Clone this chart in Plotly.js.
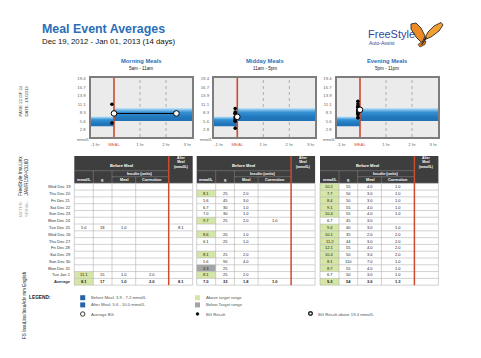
<!DOCTYPE html>
<html><head><meta charset="utf-8">
<script src="https://cdn.plot.ly/plotly-3.0.1.min.js"></script>
<style>html,body{margin:0;padding:0;background:#fff}#chart{width:481px;height:358px}</style>
</head><body><div id="chart"></div>
<script>
// ---------------- DATA ----------------
const days = ["Wed Dec 19","Thu Dec 20","Fri Dec 21","Sat Dec 22","Sun Dec 23","Mon Dec 24","Tue Dec 25","Wed Dec 26","Thu Dec 27","Fri Dec 28","Sat Dec 29","Sun Dec 30","Mon Dec 31","Tue Jan 1"];
const N = null;
const mealNames = ["Morning Meals","Midday Meals","Evening Meals"];
const mealSpans = ["5am - 11am","11am - 5pm","5pm - 11pm"];
const beforeTarget = [3.9, 7.2];
const afterTarget = [5.6, 10.0];
const yTickVals = [2.8,5.6,8.3,11.1,13.9,16.7,19.4];
const xTickText = ["-1 hr","MEAL","1 hr","2 hr","3 hr"];

const morningBG      = [N,N,N,N,N,N,5.0,N,N,N,N,N,N,11.1];
const morningCarbs   = [N,N,N,N,N,N,18,N,N,N,N,N,N,15];
const morningMealIns = [N,N,N,N,N,N,1.0,N,N,N,N,N,N,1.0];
const morningCorrIns = [N,N,N,N,N,N,N,N,N,N,N,N,N,2.0];
const morningAfterBG = [N,N,N,N,N,N,8.1,N,N,N,N,N,N,N];
const morningAfterHr = [N,N,N,N,N,N,2.4,N,N,N,N,N,N,N];
const morningAvg     = [8.1,17,1.0,2.0,8.1];

const middayBG      = [N,8.1,5.6,6.7,7.0,9.7,N,8.6,6.1,N,8.1,5.6,3.3,8.1];
const middayCarbs   = [N,25,45,30,30,25,N,20,25,N,25,90,25,25];
const middayMealIns = [N,2.0,3.0,1.0,1.0,2.0,N,1.0,1.0,N,2.0,4.0,N,2.0];
const middayCorrIns = [N,N,N,N,N,1.0,N,N,N,N,N,N,N,N];
const middayAfterBG = [N,N,N,N,N,N,N,N,N,N,N,N,N,N];
const middayAfterHr = [N,N,N,N,N,N,N,N,N,N,N,N,N,N];
const middayAvg     = [7.0,33,1.8,1.0,N];

const eveningBG      = [10.2,7.7,8.4,9.1,10.4,6.7,9.4,10.1,11.2,12.1,10.4,8.1,8.7,6.7];
const eveningCarbs   = [55,50,50,55,55,45,40,35,44,55,50,110,55,50];
const eveningMealIns = [4.0,3.0,3.0,4.0,4.0,3.0,3.0,2.0,3.0,4.0,3.0,7.0,4.0,3.0];
const eveningCorrIns = [1.0,1.0,1.0,1.0,1.0,N,1.0,2.0,2.0,2.0,2.0,1.0,1.0,1.0];
const eveningAfterBG = [N,N,N,N,N,N,N,N,N,N,N,N,N,N];
const eveningAfterHr = [N,N,N,N,N,N,N,N,N,N,N,N,N,N];
const eveningAvg     = [9.3,54,3.6,1.3,N];

// ---------------- BUILD ----------------
const W=481, H=358;
const X=p=>p/W, Y=p=>1-p/H;
const FONT="Liberation Sans, Arial, sans-serif";
const meals=[
 {bg:morningBG,g:morningCarbs,mi:morningMealIns,ci:morningCorrIns,ab:morningAfterBG,ah:morningAfterHr,avg:morningAvg},
 {bg:middayBG,g:middayCarbs,mi:middayMealIns,ci:middayCorrIns,ab:middayAfterBG,ah:middayAfterHr,avg:middayAvg},
 {bg:eveningBG,g:eveningCarbs,mi:eveningMealIns,ci:eveningCorrIns,ab:eveningAfterBG,ah:eveningAfterHr,avg:eveningAvg}
];
const annotations=[], shapes=[], traces=[];
function A(text,px,py,size,color,extra){annotations.push(Object.assign({text,x:X(px),y:Y(py),xref:'paper',yref:'paper',showarrow:false,xanchor:'center',yanchor:'middle',borderpad:0,font:{family:FONT,size,color}},extra||{}));}
function R(x0,y0,x1,y1,fill,lc,lw,layer){shapes.push({type:'rect',xref:'paper',yref:'paper',x0:X(x0),x1:X(x1),y0:Y(y1),y1:Y(y0),fillcolor:fill,line:{color:lc||fill,width:lw||0},layer:layer||'above'});}
function Ln(x0,y0,x1,y1,c,w){shapes.push({type:'line',xref:'paper',yref:'paper',x0:X(x0),x1:X(x1),y0:Y(y0),y1:Y(y1),line:{color:c,width:w},layer:'above'});}
function C(cx,cy,r,fill,lc,lw){shapes.push({type:'circle',xref:'paper',yref:'paper',x0:X(cx-r),x1:X(cx+r),y0:Y(cy+r),y1:Y(cy-r),fillcolor:fill,line:{color:lc,width:lw},layer:'above'});}

// Title
A("<b>Meal Event Averages</b>",41,29,12.4,"#2a6fb8",{xanchor:'left'});
A("Dec 19, 2012 - Jan 01, 2013 (14 days)",41,41.7,7.8,"#111",{xanchor:'left'});

// Logo
A("FreeStyle",366.5,34.5,11,"#34469a",{xanchor:'left'});
A("Auto-Assist",367.5,43.5,5,"#34469a",{xanchor:'left'});
function P(pts){return pts.map((p,i)=>(i?'L':'M')+X(p[0]).toFixed(5)+','+Y(p[1]).toFixed(5)).join(' ')+' Z';}
shapes.push({type:'path',xref:'paper',yref:'paper',path:P([[422,43],[416,37],[411,29],[411,24],[416,23],[421,28],[425,36]]),fillcolor:'#ec8a25',line:{color:'#2a2a2a',width:0.9},layer:'above'});
shapes.push({type:'path',xref:'paper',yref:'paper',path:P([[424,40],[428,32],[434,26],[441,22.5],[443,25],[439,31],[431,37]]),fillcolor:'#f0a035',line:{color:'#2a2a2a',width:0.9},layer:'above'});
shapes.push({type:'path',xref:'paper',yref:'paper',path:P([[423,41],[418,44.5],[420,47],[425,44.5],[426,41]]),fillcolor:'#e07f20',line:{color:'#2a2a2a',width:0.7},layer:'above'});
Ln(421.5,45,426.5,37,'#222',1.1);

// Charts
const frameL=[90.6,213.9,336.6], frameW=101.4, frameT=78, frameB=137;
const xr=[-0.9,3.0], yr=[0.4,19.7];
const beforeHr=-0.08;
const gradScale=[[0,'#1f70b4'],[0.3,'#2178bd'],[0.65,'#3590d2'],[0.85,'#86c3ec'],[1,'#dceffb']];
const layout={width:W,height:H,margin:{l:0,r:0,t:0,b:0},paper_bgcolor:'#fff',plot_bgcolor:'rgba(0,0,0,0)',showlegend:false,font:{family:FONT}};
meals.forEach((m,i)=>{
  const s=i?String(i+1):'';
  const xa='x'+s, ya='y'+s;
  layout['xaxis'+s]={domain:[X(frameL[i]),X(frameL[i]+frameW)],range:xr,anchor:ya,tickvals:[-0.72,0,1,2,2.82],
    ticktext:xTickText.map(t=>t==='MEAL'?'<span style="color:#d9573c">MEAL</span>':t),
    tickfont:{size:4.3,color:'#666',family:FONT},ticks:'outside',ticklen:2,tickcolor:'rgba(0,0,0,0)',
    showline:true,mirror:true,linecolor:'#7d7d7d',linewidth:2,showgrid:false,zeroline:false,fixedrange:true};
  layout['yaxis'+s]={domain:[Y(frameB),Y(frameT)],range:yr,anchor:xa,tickvals:yTickVals,ticktext:yTickVals.map(v=>v.toFixed(1)),
    tickfont:{size:4.3,color:'#666',family:FONT},ticks:'outside',ticklen:2,tickcolor:'rgba(0,0,0,0)',
    showline:true,mirror:true,linecolor:'#7d7d7d',linewidth:2,showgrid:false,zeroline:false,fixedrange:true};
  shapes.push({type:'rect',xref:xa+' domain',yref:ya+' domain',x0:0,x1:1,y0:0,y1:1,fillcolor:'#ebebeb',line:{width:0},layer:'below'});
  [1,2].forEach(h=>shapes.push({type:'line',xref:xa,yref:ya+' domain',x0:h,x1:h,y0:0,y1:1,line:{color:'#9c9c9c',width:0.8,dash:'dot'},layer:'below'}));
  traces.push({type:'scatter',xaxis:xa,yaxis:ya,mode:'lines',x:[xr[0],0,0,xr[0],xr[0]],y:[beforeTarget[0],beforeTarget[0],beforeTarget[1],beforeTarget[1],beforeTarget[0]],
    fill:'toself',fillgradient:{type:'vertical',colorscale:gradScale,start:beforeTarget[0],stop:beforeTarget[1]},line:{width:0},hoverinfo:'skip'});
  traces.push({type:'scatter',xaxis:xa,yaxis:ya,mode:'lines',x:[0,xr[1],xr[1],0,0],y:[afterTarget[0],afterTarget[0],afterTarget[1],afterTarget[1],afterTarget[0]],
    fill:'toself',fillgradient:{type:'vertical',colorscale:gradScale,start:afterTarget[0],stop:afterTarget[1]},line:{width:0},hoverinfo:'skip'});
  traces.push({type:'scatter',xaxis:xa,yaxis:ya,mode:'lines',x:[0,0],y:yr,line:{color:'#cc4a2e',width:1.6},hoverinfo:'skip'});
  const bv=m.bg.filter(v=>v!=null);
  traces.push({type:'scatter',xaxis:xa,yaxis:ya,mode:'markers',x:bv.map(()=>beforeHr),y:bv,marker:{color:'#000',size:3.6},hoverinfo:'skip'});
  const av=m.ab.map((v,k)=>[m.ah[k],v]).filter(p=>p[1]!=null);
  if(av.length) traces.push({type:'scatter',xaxis:xa,yaxis:ya,mode:'markers',x:av.map(p=>p[0]),y:av.map(p=>p[1]),marker:{color:'#000',size:3.6},hoverinfo:'skip'});
  const ax=[0], ay=[m.avg[0]];
  if(m.avg[4]!=null){ax.push(av.reduce((a,p)=>a+p[0],0)/av.length); ay.push(m.avg[4]);}
  traces.push({type:'scatter',xaxis:xa,yaxis:ya,mode:'lines+markers',x:ax,y:ay,line:{color:'#000',width:1},
    marker:{color:'#fff',size:5.6,line:{color:'#000',width:1}},hoverinfo:'skip'});
  const cx=frameL[i]+frameW/2;
  A("<b>"+mealNames[i]+"</b>",cx,61,5.8,"#2a6fb8");
  A(mealSpans[i],cx,68.3,4.6,"#222");
  A("mmol/L",frameL[i]-1,139.5,3.8,"#666",{xanchor:'right'});
});

// Tables
const colW=[19,18.7,23.7,33,24];
const tableX=[74.3,196.7,320];
const hTop=156,hR1=170.7,hR2=176.7,hBot=183.3,rowH=6.79;
const nRows=days.length+1;
const tBot=hBot+nRows*rowH;
const fmt1=v=>v==null?'':v.toFixed(1), fmt0=v=>v==null?'':String(Math.round(v));
const fmts=[fmt1,fmt0,fmt1,fmt1,fmt1];
days.concat(["Average"]).forEach((d,r)=>{
  const cy=hBot+(r+0.5)*rowH;
  A(r<days.length?d:"<b>Average</b>",72,cy,4.1,"#333",{xanchor:'right'});
});
meals.forEach((m,i)=>{
  const tx=tableX[i];
  const cum=[tx]; colW.forEach(w=>cum.push(cum[cum.length-1]+w));
  R(tx,hTop,cum[5],hBot,'#3e3e3e');
  Ln(tx,hR1,cum[4],hR1,'#8c8c8c',0.5);
  Ln(cum[2],hR2,cum[4],hR2,'#8c8c8c',0.5);
  Ln(cum[1],hR1,cum[1],hBot,'#8c8c8c',0.5);
  Ln(cum[2],hR1,cum[2],hBot,'#8c8c8c',0.5);
  Ln(cum[3],hR2,cum[3],hBot,'#8c8c8c',0.5);
  A("<b>Before Meal</b>",(tx+cum[4])/2,165.3,4.1,"#fff");
  A("<b>Insulin (units)</b>",(cum[2]+cum[4])/2,173.8,3.8,"#fff");
  ["mmol/L","g","Meal","Correction"].forEach((t,c)=>A("<b>"+t+"</b>",(cum[c]+cum[c+1])/2,180.1,3.8,"#fff"));
  A("<b>After<br>Meal<br>(mmol/L)</b>",(cum[4]+cum[5])/2,162,3.3,"#fff");
  const cols=[m.bg,m.g,m.mi,m.ci,m.ab];
  for(let r=0;r<nRows;r++){
    const y0=hBot+r*rowH, cy=y0+rowH/2;
    for(let c=0;c<5;c++){
      const v=r<days.length?cols[c][r]:m.avg[c];
      if(v==null) continue;
      if(c===0||c===4){
        const t=c===0?beforeTarget:afterTarget;
        if(v>t[1]) R(cum[c],y0,cum[c+1],y0+rowH,'#d6e6a6');
        else if(v<t[0]) R(cum[c],y0,cum[c+1],y0+rowH,'#a4a4a4');
      }
      const txt=fmts[c](v);
      A(r<days.length?txt:"<b>"+txt+"</b>",(cum[c]+cum[c+1])/2,cy,4.0,"#222");
    }
  }
  for(let r=0;r<=nRows;r++) Ln(tx,hBot+r*rowH,cum[5],hBot+r*rowH,'#b3b3b3',0.6);
  for(let c=0;c<=5;c++) if(c!==4) Ln(cum[c],hBot,cum[c],tBot,'#b3b3b3',0.6);
  Ln(cum[4],hTop,cum[4],tBot,'#cc4a2e',1.5);
});

// Legend
A("<b>LEGEND:</b>",28,297.7,4.8,"#222",{xanchor:'left'});
R(80.2,295.2,85.2,300.2,'#2563a9');
A("Before Meal: 3.9 - 7.2 mmol/L",90,297.7,4.2,"#555",{xanchor:'left'});
R(80.2,302.4,85.2,307.4,'#2563a9');
A("After Meal: 5.6 - 10.0 mmol/L",90,304.9,4.2,"#555",{xanchor:'left'});
C(82.7,314,2.2,'#fff','#222',0.9);
A("Average BG",90,314,4.2,"#555",{xanchor:'left'});
R(195,295.2,200,300.2,'#d6e6a6');
A("Above target range",204.5,297.7,4.2,"#555",{xanchor:'left'});
R(195,302.4,200,307.4,'#a4a4a4');
A("Below Target range",204.5,304.9,4.2,"#555",{xanchor:'left'});
C(197.5,314,1.4,'#000','#000',0.5);
A("BG Result",204.5,314,4.2,"#555",{xanchor:'left'});
C(310.5,313.5,1.8,'#fff','#222',1.4);
A("BG Result above 19.4 mmol/L",317,314,4.2,"#555",{xanchor:'left'});

// Side texts
const side=(t,px,pyBottom,size,color)=>A(t,px,pyBottom,size,color,{textangle:-90,yanchor:'bottom'});
side("PAGE 22 OF 24",20,118,4.3,"#444");
side("DATE: 1/1/2013",26,118,4.3,"#444");
side("FreeStyle InsuLinx",20,197,4.8,"#222");
side("JAMR159-K3160",26,197,4.8,"#222");
side("METER:",20,218,4.2,"#aaa");
side("SERIAL:",26,218,4.2,"#aaa");
side("FS InsuLinx/InsuAdv mm English",24,340,4.6,"#222");

layout.annotations=annotations; layout.shapes=shapes;
Plotly.newPlot('chart',traces,layout,{staticPlot:true,displayModeBar:false});
</script></body></html>
